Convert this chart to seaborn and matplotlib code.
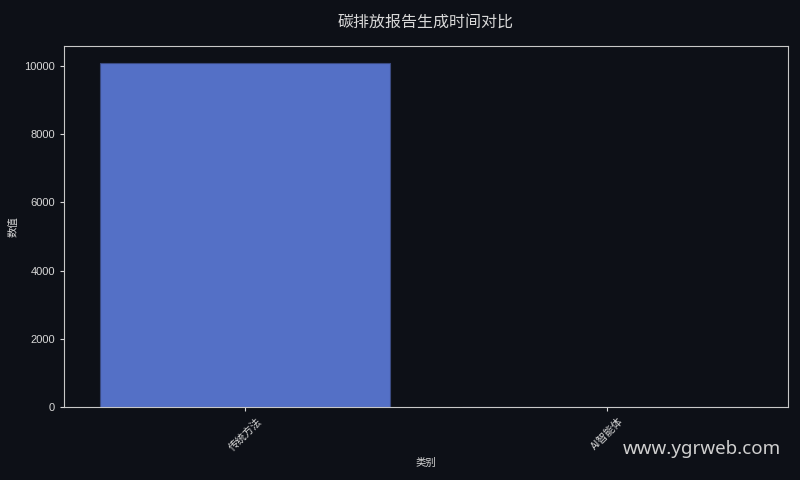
import matplotlib
matplotlib.use("Agg")
import matplotlib.pyplot as plt
import seaborn as sns
import pandas as pd

categories = ["传统方法", "AI智能体"]
values = [10080, 8]
title = "碳排放报告生成时间对比"
xlabel = "类别"
ylabel = "数值"
watermark = "www.ygrweb.com"

bg = "#0d1017"
fg = "#d8d8d8"

sns.set_theme(style="dark")
plt.rcParams['font.family'] = ['Liberation Sans', 'Noto Sans CJK SC', 'DejaVu Sans']
plt.rcParams.update({
    "figure.facecolor": bg, "axes.facecolor": bg, "savefig.facecolor": bg,
    "axes.edgecolor": "#c8c8c8", "text.color": fg, "axes.labelcolor": fg,
    "xtick.color": fg, "ytick.color": fg,
})

df = pd.DataFrame({"类别": categories, "数值": values})

fig = plt.figure(figsize=(8, 4.8), dpi=100)
ax = fig.add_axes([0.08, 0.152, 0.905, 0.752])
sns.barplot(data=df, x="类别", y="数值", color="#5470c6", saturation=1,
            edgecolor="#3a4a80", linewidth=0.8, ax=ax)

cjk = ['Noto Sans CJK SC', 'DejaVu Sans']
ax.set_title(title, fontsize=11.5, color=fg, pad=14, family=cjk)
ax.set_xlabel(xlabel, fontsize=7.5, family=cjk)
ax.set_ylabel(ylabel, fontsize=7.5, family=cjk)
ax.tick_params(axis="both", labelsize=8, length=3, width=0.8, bottom=True, left=True)
for lbl in ax.get_yticklabels():
    lbl.set_family(['Liberation Sans', 'DejaVu Sans'])
for lbl in ax.get_xticklabels():
    lbl.set_rotation(45)
    lbl.set_family(cjk)
    lbl.set_fontsize(7.5)
for s in ax.spines.values():
    s.set_visible(True)
    s.set_color("#c8c8c8")
    s.set_linewidth(0.8)
ax.grid(False)

fig.text(0.976, 0.065, watermark, ha="right", va="center", fontsize=13.5,
         color="#d0d0d0", family=['Noto Sans', 'DejaVu Sans'])

fig.savefig("out.png", dpi=100)
